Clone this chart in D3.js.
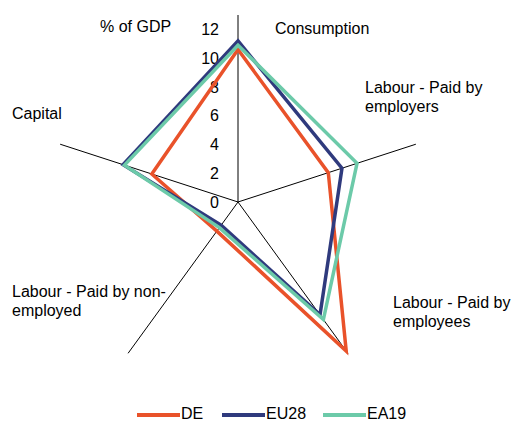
<!DOCTYPE html>
<html>
<head>
<meta charset="utf-8">
<script src="https://cdn.jsdelivr.net/npm/d3@7"></script>
<style>
  body { margin: 0; background: #fff; }
  svg { font-family: "Liberation Sans", Arial, sans-serif; font-size: 16px; }
</style>
</head>
<body>
<svg id="radar" width="512" height="423"></svg>
<script>
// chart data
const categories = ["Consumption", "Labour - Paid by employers", "Labour - Paid by employees", "Labour - Paid by non-employed", "Capital"];
const seriesNames = ["DE", "EU28", "EA19"];
const deValues = [10.6, 6.6, 12.8, 2.5, 6.3];
const eu28Values = [11.2, 7.6, 9.7, 2.0, 8.4];
const ea19Values = [10.9, 8.7, 10.1, 2.2, 8.3];
const tickValues = [0, 2, 4, 6, 8, 10, 12];
const unitLabel = "% of GDP";

const colors = { DE: "#e9522a", EU28: "#2f3a7d", EA19: "#6ccaa9" };
const series = [
  { name: "DE", values: deValues },
  { name: "EU28", values: eu28Values },
  { name: "EA19", values: ea19Values }
];

const svg = d3.select("#radar");
const cx = 238, cy = 202;   // centre of the radar
const r = d3.scaleLinear().domain([0, 13]).range([0, 187]);
const angle = d3.scaleLinear().domain([0, categories.length]).range([0, 2 * Math.PI]);

const g = svg.append("g").attr("transform", `translate(${cx},${cy})`);

// spokes
g.selectAll("line.spoke")
  .data(categories)
  .enter()
  .append("line")
  .attr("class", "spoke")
  .attr("x1", 0).attr("y1", 0)
  .attr("x2", (d, i) => r(13) * Math.sin(angle(i)))
  .attr("y2", (d, i) => -r(13) * Math.cos(angle(i)))
  .attr("stroke", "#000")
  .attr("stroke-width", 1);

// value ticks on the top spoke
g.selectAll("text.tick")
  .data(tickValues)
  .enter()
  .append("text")
  .attr("class", "tick")
  .attr("x", -19)
  .attr("y", d => -r(d))
  .attr("dy", "0.35em")
  .attr("text-anchor", "end")
  .attr("fill", "#000")
  .text(d => d);

// series polygons
const radarLine = d3.lineRadial()
  .angle((d, i) => angle(i))
  .radius(d => r(d))
  .curve(d3.curveLinearClosed);

g.selectAll("path.series")
  .data(series)
  .enter()
  .append("path")
  .attr("class", "series")
  .attr("d", d => radarLine(d.values))
  .attr("fill", "none")
  .attr("stroke", d => colors[d.name])
  .attr("stroke-width", 3.5)
  .attr("stroke-linejoin", "miter");

// category labels (positions picked by eye)
const labelPos = [
  { x: 275, y: 34, lines: ["Consumption"] },
  { x: 365, y: 93, lines: ["Labour - Paid by", "employers"] },
  { x: 393, y: 308, lines: ["Labour - Paid by", "employees"] },
  { x: 12, y: 297, lines: ["Labour - Paid by non-", "employed"] },
  { x: 12, y: 119, lines: ["Capital"] }
];

categories.forEach((c, i) => {
  const p = labelPos[i];
  const t = svg.append("text").attr("x", p.x).attr("y", p.y).attr("fill", "#000");
  p.lines.forEach((ln, j) => {
    t.append("tspan").attr("x", p.x).attr("dy", j === 0 ? 0 : 19).text(ln);
  });
});

svg.append("text")
  .attr("x", 100).attr("y", 32)
  .attr("fill", "#000")
  .text(unitLabel);

// legend
const legendX = [137, 222, 323];
const legend = svg.selectAll("g.legend")
  .data(seriesNames)
  .enter()
  .append("g")
  .attr("class", "legend")
  .attr("transform", (d, i) => `translate(${legendX[i]},415)`);

legend.append("line")
  .attr("x1", 0).attr("x2", 43)
  .attr("y1", 0).attr("y2", 0)
  .attr("stroke", d => colors[d])
  .attr("stroke-width", 4);

legend.append("text")
  .attr("x", 44)
  .attr("y", 4)
  .attr("fill", "#000")
  .text(d => d);
</script>
</body>
</html>
